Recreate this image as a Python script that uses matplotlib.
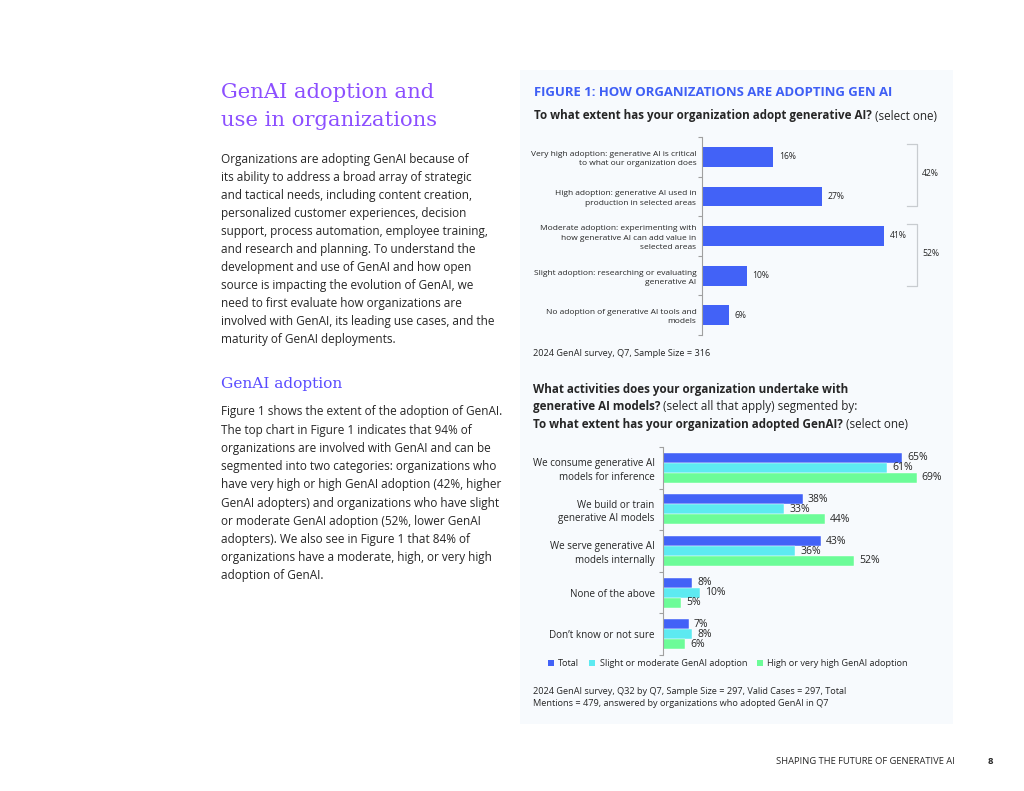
import numpy as np
import matplotlib
matplotlib.use("Agg")
import matplotlib.pyplot as plt
from matplotlib.patches import Rectangle, Patch

plt.rcParams['font.family'] = ['Open Sans', 'DejaVu Sans']

# ---- data ----
adopt_labels = [
    "Very high adoption: generative AI is critical\nto what our organization does",
    "High adoption: generative AI used in\nproduction in selected areas",
    "Moderate adoption: experimenting with\nhow generative AI can add value in\nselected areas",
    "Slight adoption: researching or evaluating\ngenerative AI",
    "No adoption of generative AI tools and\nmodels",
]
adopt_values = [16, 27, 41, 10, 6]
group_totals = [42, 52]

activity_labels = [
    "We consume generative AI\nmodels for inference",
    "We build or train\ngenerative AI models",
    "We serve generative AI\nmodels internally",
    "None of the above",
    "Don\u2019t know or not sure",
]
series_names = ["Total", "Slight or moderate GenAI adoption", "High or very high GenAI adoption"]
total_vals = [65, 38, 43, 8, 7]
lower_vals = [61, 33, 36, 10, 8]
higher_vals = [69, 44, 52, 5, 6]

intro_lines = [
    "Organizations are adopting GenAI because of",
    "its ability to address a broad array of strategic",
    "and tactical needs, including content creation,",
    "personalized customer experiences, decision",
    "support, process automation, employee training,",
    "and research and planning. To understand the",
    "development and use of GenAI and how open",
    "source is impacting the evolution of GenAI, we",
    "need to first evaluate how organizations are",
    "involved with GenAI, its leading use cases, and the",
    "maturity of GenAI deployments.",
]
adoption_lines = [
    "Figure 1 shows the extent of the adoption of GenAI.",
    "The top chart in Figure 1 indicates that 94% of",
    "organizations are involved with GenAI and can be",
    "segmented into two categories: organizations who",
    "have very high or high GenAI adoption (42%, higher",
    "GenAI adopters) and organizations who have slight",
    "or moderate GenAI adoption (52%, lower GenAI",
    "adopters). We also see in Figure 1 that 84% of",
    "organizations have a moderate, high, or very high",
    "adoption of GenAI.",
]

BLUE = '#4262F7'
CYAN = '#5DEAF1'
GREEN = '#6CFC98'
TXT = '#262626'
AXC = '#a0a0a0'

W, H = 1024, 791
fig = plt.figure(figsize=(W / 100, H / 100), dpi=100)
fig.patch.set_facecolor('white')


def fx(x):
    return x / W


def fy(y):
    return 1 - y / H


def px_axes(left, top, width, height):
    return fig.add_axes([fx(left), fy(top + height), width / W, height / H])


# panel background
fig.patches.append(Rectangle((fx(520), fy(724)), (953 - 520) / W, (724 - 70) / H,
                             transform=fig.transFigure, facecolor='#f7fafd', edgecolor='none', zorder=-5))

# ---- left column text ----
fig.text(fx(221), fy(93), "GenAI adoption and", family='DejaVu Serif', fontsize=15.2,
         color='#8C4FFF', va='center')
fig.text(fx(221), fy(120), "use in organizations", family='DejaVu Serif', fontsize=15.2,
         color='#8C4FFF', va='center')
for i, line in enumerate(intro_lines):
    fig.text(fx(221), fy(159 + i * 18.1), line, fontsize=8.5, color=TXT, va='center')
fig.text(fx(221), fy(384), "GenAI adoption", family='DejaVu Serif', fontsize=11.1,
         color='#5A4CFF', va='center')
for i, line in enumerate(adoption_lines):
    fig.text(fx(221), fy(412 + i * 18.2), line, fontsize=8.5, color=TXT, va='center')

# footer
fig.text(fx(776), fy(762), "SHAPING THE FUTURE OF GENERATIVE AI", fontsize=6.75, color=TXT, va='center')
fig.text(fx(988), fy(762), "8", fontsize=6.8, color=TXT, va='center', fontweight='bold')

renderer = fig.canvas.get_renderer()


def mixed_line(x, y, bold, regular, size):
    t = fig.text(fx(x), fy(y), bold, fontsize=size, fontweight='bold', color=TXT, va='center')
    bb = t.get_window_extent(renderer)
    if regular:
        fig.text(bb.x1 / W, fy(y), " " + regular, fontsize=size, color=TXT, va='center')


# ---- figure 1 headings ----
fig.text(fx(534), fy(93), "FIGURE 1: HOW ORGANIZATIONS ARE ADOPTING GEN AI", fontsize=9.45,
         fontweight='bold', color='#3F5FF5', va='center')
mixed_line(534, 116, "To what extent has your organization adopt generative AI?", "(select one)", 8.4)

# ---- top chart ----
ax1 = px_axes(702, 137, 45 * 4.45, 198)
y1 = np.arange(len(adopt_values))
ax1.barh(y1, adopt_values, height=0.5, color=BLUE)
ax1.set_ylim(len(adopt_values) - 0.5, -0.5)
ax1.set_xlim(0, 45)
ax1.set_yticks(y1)
ax1.set_yticklabels(adopt_labels, fontsize=6.0, color=TXT, ha='right', linespacing=1.45)
ax1.set_yticks(np.arange(-0.5, len(adopt_values)), minor=True)
ax1.tick_params(axis='y', which='major', length=0, pad=4)
ax1.tick_params(axis='y', which='minor', length=3, color=AXC, width=0.8)
ax1.set_xticks([])
for s in ['top', 'right', 'bottom']:
    ax1.spines[s].set_visible(False)
ax1.spines['left'].set_color(AXC)
ax1.spines['left'].set_linewidth(0.8)
ax1.patch.set_alpha(0)
for yi, v in zip(y1, adopt_values):
    ax1.annotate(f"{v}%", (v, yi), xytext=(4, 0), textcoords='offset points',
                 fontsize=6.2, color=TXT, va='center')

# brackets for grouped totals
for (top, bot), tot in zip([(144, 206), (224, 286)], group_totals):
    xs = [fx(907), fx(917), fx(917), fx(907)]
    ys = [fy(top), fy(top), fy(bot), fy(bot)]
    fig.add_artist(plt.Line2D(xs, ys, color='#c8ccd0', lw=0.9, transform=fig.transFigure))
    fig.text(fx(922), fy((top + bot) / 2 - 1), f"{tot}%", fontsize=6.2, color=TXT, va='center')

fig.text(fx(533), fy(353), "2024 GenAI survey, Q7, Sample Size = 316", fontsize=6.6, color=TXT, va='center')

# ---- second chart headings ----
mixed_line(533, 389, "What activities does your organization undertake with", "", 8.4)
mixed_line(533, 407, "generative AI models?", "(select all that apply) segmented by:", 8.4)
mixed_line(533, 425, "To what extent has your organization adopted GenAI?", "(select one)", 8.4)

# ---- bottom chart ----
ax2 = px_axes(663, 447, 75 * 3.68, 208)
y2 = np.arange(len(activity_labels))
bh = 0.24
series = [total_vals, lower_vals, higher_vals]
colors = [BLUE, CYAN, GREEN]
for k, (vals, c) in enumerate(zip(series, colors)):
    pos = y2 + (k - 1) * bh
    ax2.barh(pos, vals, height=bh, color=c, edgecolor='white', linewidth=0.3)
    for p, v in zip(pos, vals):
        ax2.annotate(f"{v}%", (v, p), xytext=(3.5, 0), textcoords='offset points',
                     fontsize=7.5, color=TXT, va='center')
ax2.set_ylim(len(activity_labels) - 0.5, -0.5)
ax2.set_xlim(0, 75)
ax2.set_yticks(y2)
ax2.set_yticklabels(activity_labels, fontsize=7.1, color=TXT, ha='right', linespacing=1.3)
ax2.set_yticks(np.arange(-0.5, len(activity_labels)), minor=True)
ax2.tick_params(axis='y', which='major', length=0, pad=6)
ax2.tick_params(axis='y', which='minor', length=3, color=AXC, width=0.8)
ax2.set_xticks([])
for s in ['top', 'right', 'bottom']:
    ax2.spines[s].set_visible(False)
ax2.spines['left'].set_color(AXC)
ax2.spines['left'].set_linewidth(0.8)
ax2.patch.set_alpha(0)

handles = [Patch(facecolor=c, edgecolor='none') for c in colors]
fig.legend(handles, series_names, loc='center left', bbox_to_anchor=(fx(540), fy(664)),
           ncol=3, frameon=False, fontsize=6.6, handlelength=0.6, handleheight=0.6,
           handletextpad=0.5, columnspacing=1.1, labelcolor=TXT)

fig.text(fx(533), fy(692), "2024 GenAI survey, Q32 by Q7, Sample Size = 297, Valid Cases = 297, Total",
         fontsize=6.6, color=TXT, va='center')
fig.text(fx(533), fy(704), "Mentions = 479, answered by organizations who adopted GenAI in Q7",
         fontsize=6.6, color=TXT, va='center')

fig.savefig("out.png", dpi=100, facecolor='white')
